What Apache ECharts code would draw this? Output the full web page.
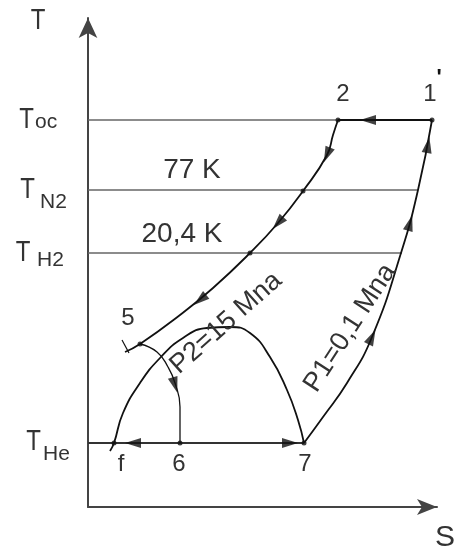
<!DOCTYPE html>
<html><head><meta charset="utf-8">
<script src="https://cdn.jsdelivr.net/npm/echarts@6/dist/echarts.min.js"></script>
<style>html,body{margin:0;padding:0;background:#fff}#c{width:460px;height:551px}</style>
</head><body><div id="c"></div>
<script>
// ---- data (S, T in plot units) ----
const isoToc = [[0,387],[250,387]];
const isoN2  = [[0,317],[330,317]];
const isoH2  = [[0,254],[314,254]];
const isoHe  = [[0,64],[216,64]];
const proc12 = [[344,387],[250,387]];
const proc25 = [[250,387],[245,372],[239,352],[215,316],[190,284],[162,254],[125,219],[92,192],[52,163],[37,155]];
const tick5  = [[34,167],[41,154]];
const proc56 = [[52,163],[69,155],[80,140],[87,124],[92,100],[92,64]];
const dome   = [[22,56],[26,64],[35,94],[52,124],[72,149],[95,169],[119,179],[142,180],[162,174],[182,150],[199,117],[210,87],[216,64]];
const proc71 = [[216,64],[235,90],[259,124],[284,170],[313,254],[330,317],[344,387]];
const statePoints = [[344,387],[250,387],[215,316],[162,254],[52,163],[92,64],[216,64],[26,64]];
const arrowPoints = [[280,387],[239,352],[190,284],[112,207],[87,122],[45,64],[202,64],[284,170],[322,284],[340,362]];
const arrowAngles = [90,157,138,129,-163,90,-90,-26,-16,-10];
const yTickValues = [387,317,254,64];
const yTickSubs   = ['oc','N2','H2','He'];
const pointNames  = ['1','2','5','f','6','7'];
const isoNames    = ['77 K','20,4 K'];
const pressureNames = ['P2=15 Mna','P1=0,1 Mna'];

// ---- layout (anchors in plot units, offsets in px) ----
const pointAnchors = [[342,413],[255,413],[40,189],[33,43],[91,43],[217,43]];
const isoAnchors = [[104,337],[94,273]];
const pressureAnchors = [[138,184],[262,179]];
const pressureRot = [41.6,57];
const yLabLayout = [ // [Tcx, Tdy, subLeft, subDy]
  [26.5,-0.5,35,2],[27.5,-0.5,40,12.6],[23,-0.5,37,7.6],[33.5,-1.5,43,11.6]
];

const FONT = '"Liberation Sans", Arial, sans-serif';
const chart = echarts.init(document.getElementById('c'));
function ln(data, color, width, smooth){
  return {type:'line', data, symbol:'none', showSymbol:false, smooth: smooth||false,
    lineStyle:{color, width}, silent:true, z:2, animation:false};
}
const axisCommon = {type:'value', axisTick:{show:false}, axisLabel:{show:false}, splitLine:{show:false}};
chart.setOption({
  animation:false,
  grid:{left:88, right:23, top:18, bottom:44, containLabel:false, outerBoundsMode:'none'},
  xAxis:Object.assign({min:0,max:349, axisLine:{show:true,onZero:false,symbol:['none','arrow'],symbolSize:[12,20],lineStyle:{color:'#444',width:2}}},axisCommon),
  yAxis:Object.assign({min:0,max:489, axisLine:{show:true,onZero:false,symbol:['none','arrow'],symbolSize:[14,20],lineStyle:{color:'#444',width:2}}},axisCommon),
  series:[
    ln(isoToc,'#666',1.6), ln(isoN2,'#666',1.6), ln(isoH2,'#666',1.6), ln(isoHe,'#333',1.8),
    ln(proc12,'#111',2), ln(proc25,'#111',1.8,0.5), ln(tick5,'#111',1.2),
    ln(proc56,'#111',1.3,0.5), ln(dome,'#111',1.8,0.5), ln(proc71,'#111',1.8,0.5),
    {type:'scatter', data:statePoints, symbol:'circle', symbolSize:5, itemStyle:{color:'#111'}, silent:true, z:4},
    {type:'scatter', data:arrowPoints.map((p,i)=>({value:p, symbolRotate:arrowAngles[i]})), symbol:'triangle', symbolSize:[10,16], itemStyle:{color:'#111'}, silent:true, z:5}
  ]
});
const px = p => chart.convertToPixel({gridIndex:0}, p);
const els = [];
function txt(s, x, y, size, opt){
  opt = opt||{};
  els.push({type:'text', x, y, rotation:opt.rot||0, scaleX:opt.sx||1, silent:true, z:10,
    style:{text:s, x:0, y:0, fill:opt.fill||'#333', font:(opt.w||'normal')+' '+size+'px '+FONT, textAlign:opt.align||'center', align:opt.align||'center', textVerticalAlign:'middle', verticalAlign:'middle'}});
}
// axis titles
const axTop = px([0,489]); const axRight = px([349,0]);
txt('T', axTop[0]-50, axTop[1]+3, 30, {sx:0.8});
txt('S', axRight[0]+8, axRight[1]+31, 30);
// y labels
yTickValues.forEach((v,i)=>{
  const y = px([0,v])[1]; const L = yLabLayout[i];
  txt('T', L[0], y+L[1], 30, {sx:0.8});
  txt(yTickSubs[i], L[2], y+L[3], 21, {align:'left'});
});
pointNames.forEach((n,i)=>{ const p = px(pointAnchors[i]); txt(n, p[0], p[1], 24); });
{ const p = px(pointAnchors[0]); txt("'", p[0]+9, p[1]-16, 22, {w:'bold', fill:'#111'}); }
isoNames.forEach((n,i)=>{ const p = px(isoAnchors[i]); txt(n, p[0], p[1], 28); });
pressureNames.forEach((n,i)=>{ const p = px(pressureAnchors[i]); txt(n, p[0], p[1], 27, {rot:pressureRot[i]*Math.PI/180}); });
chart.setOption({graphic:{elements:els}});
</script></body></html>
